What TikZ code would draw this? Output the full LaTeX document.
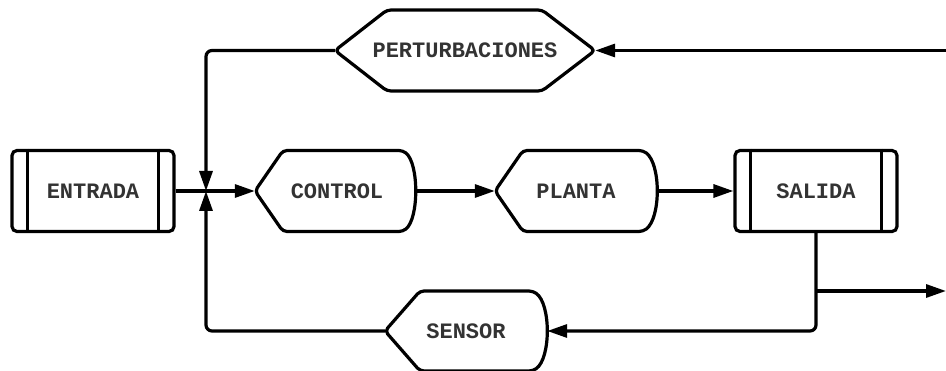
\documentclass[tikz,border=0pt]{standalone}
\usepackage{fontspec}
\setmonofont{Liberation Mono}
\usetikzlibrary{arrows.meta}
\definecolor{txtgray}{HTML}{333333}
\begin{document}
\begin{tikzpicture}[x=1pt,y=-1pt,
  lbl/.style={font=\ttfamily\bfseries\fontsize{22}{22}\selectfont, text=txtgray, inner sep=0pt, minimum height=81pt},
  outline/.style={draw=black, line width=3.2pt, rounded corners=4pt, line join=round},
  procbox/.style={lbl, draw=black, line width=3.2pt, rounded corners=5pt, minimum width=162pt},
  conn/.style={draw=black, line width=3.2pt, rounded corners=6pt},
  arr/.style={conn, -{Triangle[length=20pt,width=13pt]}}]
\useasboundingbox (0,0) rectangle (946,371);
\fill[white] (0,0) rectangle (946,371);

% rectangular boxes with inner bars
\node[procbox] (entrada) at (93,191) {ENTRADA};
\draw[line width=3.2pt] ([xshift=17pt]entrada.north west) -- ([xshift=17pt]entrada.south west);
\draw[line width=3.2pt] ([xshift=-17pt]entrada.north east) -- ([xshift=-17pt]entrada.south east);
\node[procbox] (salida) at (816,191) {SALIDA};
\draw[line width=3.2pt] ([xshift=17pt]salida.north west) -- ([xshift=17pt]salida.south west);
\draw[line width=3.2pt] ([xshift=-17pt]salida.north east) -- ([xshift=-17pt]salida.south east);

% display-shaped nodes
\node[lbl, minimum width=160pt] (control) at (335,191) {\hspace*{4pt}CONTROL};
\draw[outline] (255,191) -- (283,150.5) -- (403,150.5) .. controls (419,164) and (419,218) .. (403,231.5) -- (283,231.5) -- cycle;
\node[lbl, minimum width=162pt] (planta) at (576,191) {PLANTA};
\draw[outline] (495,191) -- (523,150.5) -- (643,150.5) .. controls (661,164) and (661,218) .. (643,231.5) -- (523,231.5) -- cycle;
\node[lbl, minimum width=162pt] (sensor) at (466,331) {SENSOR};
\draw[outline] (385,331) -- (420,291) -- (533,291) .. controls (551,304) and (551,358) .. (533,371) -- (420,371) -- cycle;

% hexagon
\node[lbl, minimum width=260pt] (pert) at (465,50.5) {PERTURBACIONES};
\draw[outline] (335,50.5) -- (387,10) -- (542,10) -- (595,50.5) -- (542,91) -- (387,91) -- cycle;

% connectors
\coordinate (J) at (206,191);
\coordinate (inR) at (946,50.5);
\coordinate (br) at (816,291);
\coordinate (outR) at (946,291);
\draw[arr] (entrada.east) -- (control.west);
\draw[arr] (pert.west) -| (J);
\draw[arr] (sensor.west) -| (J);
\draw[arr] (inR) -- (pert.east);
\draw[arr] (control.east) -- (planta.west);
\draw[arr] (planta.east) -- (salida.west);
\draw[arr] (salida.south) |- (sensor.east);
\draw[arr] (br) -- (outR);
\end{tikzpicture}
\end{document}
